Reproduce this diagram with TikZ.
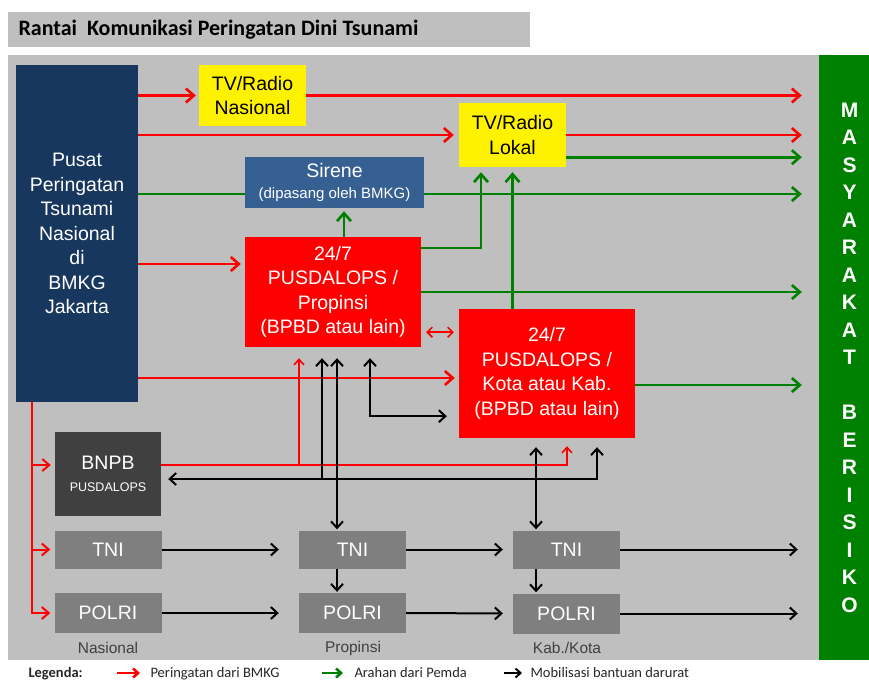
\documentclass[tikz,border=0pt]{standalone}
\usepackage{fontspec}
\setmainfont{Liberation Sans}
\newfontfamily\calibri{Carlito}
\usetikzlibrary{arrows.meta}
\definecolor{panelgray}{HTML}{BFBFBF}
\definecolor{navy}{HTML}{17375E}
\definecolor{sireneblue}{HTML}{376092}
\definecolor{darkgreen}{HTML}{008000}
\definecolor{boxgray}{HTML}{7F7F7F}
\definecolor{bnpbgray}{HTML}{404040}

\begin{document}
\begin{tikzpicture}[x=1pt,y=-1pt,
  box/.style={rectangle, inner sep=0pt, align=center, text=white,
    font=\fontsize{19.5}{24.5}\selectfont},
  greybox/.style={box, fill=boxgray, minimum width=107pt, minimum height=38pt},
  rline/.style={draw=red, line width=2.6pt, -{Straight Barb[length=8pt,width=14pt]}, shorten >=3pt},
  rthin/.style={draw=red, line width=1.6pt, -{Straight Barb[length=5.5pt,width=10pt]}},
  rmid/.style={draw=red, line width=2pt, -{Straight Barb[length=7pt,width=12pt]}, shorten >=4pt},
  gline/.style={draw=darkgreen, line width=2.6pt, -{Straight Barb[length=8pt,width=14pt]}, shorten >=3pt},
  bline/.style={draw=black, line width=2pt, -{Straight Barb[length=6.5pt,width=12pt]}},
  bboth/.style={bline, {Straight Barb[length=6.5pt,width=12pt]}-{Straight Barb[length=6.5pt,width=12pt]}},
  tomasy/.style={shorten >=17pt},
  level/.style={text=black!75, font=\fontsize{15.5}{18}\selectfont},
  legend/.style={anchor=base west, text=black!85, font=\calibri\fontsize{14.5}{17}\selectfont},
  lgarrow/.style={line width=2.6pt, -{Straight Barb[length=5pt,width=9pt]}}]
\useasboundingbox (0,0) rectangle (869,681);

% background
\fill[panelgray] (8,12) rectangle (530,47);
\node[anchor=west, font=\calibri\bfseries\fontsize{22}{25}\selectfont] (title) at (15,30)
  {Rantai\ \ Komunikasi Peringatan Dini Tsunami};
\fill[panelgray] (8,55) rectangle (819,660);

% boxes
\node[box, fill=navy, minimum width=122pt, minimum height=337pt] (pusat) at (77,233.5)
  {Pusat\\Peringatan\\Tsunami\\Nasional\\di\\BMKG\\Jakarta};
\node[box, fill=yellow, text=black, minimum width=107pt, minimum height=61pt] (tvnas) at (252.5,95.5)
  {TV/Radio\\Nasional};
\node[box, fill=yellow, text=black, minimum width=107pt, minimum height=64pt] (tvlok) at (512.5,135)
  {TV/Radio\\Lokal};
\node[box, fill=sireneblue, minimum width=179pt, minimum height=51pt, font=\fontsize{19.5}{21}\selectfont] (sirene) at (334.5,182.5)
  {Sirene\\{\fontsize{15}{16}\selectfont(dipasang oleh BMKG)}};
\node[box, fill=red, minimum width=176pt, minimum height=110pt] (prop) at (333,292)
  {24/7\\PUSDALOPS /\\Propinsi\\(BPBD atau lain)};
\node[box, fill=red, minimum width=176pt, minimum height=129pt] (kota) at (547,373.5)
  {24/7\\PUSDALOPS /\\Kota atau Kab.\\(BPBD atau lain)};
\node[box, fill=bnpbgray, minimum width=106pt, minimum height=84pt] (bnpb) at (108,474)
  {BNPB\\[-3pt]{\fontsize{12.5}{14}\selectfont PUSDALOPS}};
\node[greybox] (tnin) at (108,549.5) {TNI};
\node[greybox, minimum height=40pt] (polrin) at (108,613) {POLRI};
\node[greybox] (tnip) at (352.5,549.5) {TNI};
\node[greybox, minimum height=40pt] (polrip) at (352.5,613) {POLRI};
\node[greybox] (tnik) at (566.5,549.5) {TNI};
\node[greybox, minimum height=40pt] (polrik) at (566.5,613.5) {POLRI};
\node[box, fill=darkgreen, minimum width=61pt, minimum height=605pt,
  font=\bfseries\fontsize{21}{27.5}\selectfont] (masy) at (849.5,357.5)
  {M\\A\\S\\Y\\A\\R\\A\\K\\A\\T\\[27.5pt]B\\E\\R\\I\\S\\I\\K\\O};

\node[level] (lnas) at (108,648) {Nasional};
\node[level] (lprop) at (353,648) {Propinsi};
\node[level] (lkab) at (567,648) {Kab./Kota};

% helper points
\coordinate (tl1) at ([yshift=10pt]tvlok.south east);
\coordinate (s1) at ([yshift=-11.5pt]sirene.east);
\coordinate (p1) at ([yshift=-11pt]prop.north east);
\coordinate (p2) at ([yshift=28pt]prop.west);
\coordinate (p3) at ([yshift=15pt]prop.south east);
\coordinate (k1) at ([yshift=-11.5pt]kota.east);
\coordinate (k2) at ([yshift=-4.5pt]kota.west);
\coordinate (k3) at ([yshift=22pt]kota.south west);
\coordinate (b1) at ([yshift=9pt]bnpb.east);
\coordinate (b2) at ([yshift=-5pt]bnpb.east);
\coordinate (v1) at ([xshift=4pt]prop.south);
\coordinate (v2) at ([xshift=-11pt]kota.south);
\coordinate (v3) at ([xshift=37pt]prop.south);
\coordinate (v4) at ([xshift=-11pt]prop.south);
\coordinate (v5) at ([xshift=-34pt]prop.south);
\coordinate (v6) at ([xshift=20pt]kota.south);
\coordinate (v7) at ([xshift=50pt]kota.south);
\coordinate (g1) at ([xshift=11pt]prop.north);
\coordinate (g2) at ([xshift=-31.5pt]tvlok.south);
\coordinate (r0) at ([xshift=-45pt]pusat.south);

% peringatan (red)
\draw[rline] (pusat.east |- tvnas) -- (tvnas.west);
\draw[rline, tomasy] (tvnas.east) -- (tvnas.east -| masy.west);
\draw[rline, shorten >=5pt] (pusat.east |- tvlok) -- (tvlok.west);
\draw[rline, tomasy] (tvlok.east) -- (tvlok.east -| masy.west);
\draw[rline, shorten >=4pt] (pusat.east |- p2) -- (p2);
\draw[rline, shorten >=4pt] (pusat.east |- k2) -- (k2);
\draw[rthin, {Straight Barb[length=5pt,width=10pt]}-{Straight Barb[length=5pt,width=10pt]},
  shorten <=5pt, shorten >=5pt] (p3) -- (p3 -| kota.west);
\draw[rthin, shorten >=8pt] (b1) -| (v6 |- kota.south);
\draw[rthin, shorten >=11pt] (v5 |- b1) -- (v5);
\draw[rmid] (r0) |- (polrin.west);
\draw[rmid] (r0 |- b1) -- (b1 -| bnpb.west);
\draw[rmid] (r0 |- tnin) -- (tnin.west);

% arahan (green)
\draw[darkgreen, line width=2.6pt] (pusat.east |- s1) -- (s1 -| sirene.west);
\draw[gline, tomasy] (s1) -- (s1 -| masy.west);
\draw[gline] (g1) -- (g1 |- sirene.south);
\draw[gline, shorten >=5pt] (p1) -| (g2);
\draw[gline, tomasy] (prop.east) -- (prop.east -| masy.west);
\draw[gline, shorten >=5pt] (kota.north -| tvlok.south) -- (tvlok.south);
\draw[gline, tomasy] (tl1) -- (tl1 -| masy.west);
\draw[gline, tomasy] (k1) -- (k1 -| masy.west);

% mobilisasi (black)
\draw[bboth, shorten <=7pt, shorten >=9pt] (b2) -| (v7 |- kota.south);
\draw[bline, shorten >=11pt] (v4 |- b2) -- (v4);
\draw[bboth, shorten <=11pt, shorten >=12pt] (v3) |- (k3);
\draw[bboth, shorten <=11pt, shorten >=1pt] (v1) -- (v1 |- tnip.north);
\draw[bboth, shorten <=9pt, shorten >=1pt] (v2) -- (v2 |- tnik.north);
\draw[bline, shorten >=1pt] (v1 |- tnip.south) -- (v1 |- polrip.north);
\draw[bline, shorten >=1pt] (v2 |- tnik.south) -- (v2 |- polrik.north);
\draw[bline, shorten >=20pt] (tnin.east) -- (tnip.west);
\draw[bline, shorten >=20pt] (polrin.east) -- (polrip.west);
\draw[bline, shorten >=10pt] (tnip.east) -- (tnik.west);
\draw[bline, shorten >=10pt] (polrip.east) -- (polrik.west);
\draw[bline, shorten >=21pt] (tnik.east) -- (tnik.east -| masy.west);
\draw[bline, shorten >=21pt] (polrik.east) -- (polrik.east -| masy.west);

% legenda
\node[legend, font=\calibri\bfseries\fontsize{14.5}{17}\selectfont] (lgd) at (25,677) {Legenda:};
\node[legend] (lg1) at (147,677) {Peringatan dari BMKG};
\node[legend] (lg2) at (351,677) {Arahan dari Pemda};
\node[legend] (lg3) at (527,677) {Mobilisasi bantuan darurat};
\draw[lgarrow, red] ([xshift=-30pt,yshift=4pt]lg1.base west) -- ([xshift=-7pt,yshift=4pt]lg1.base west);
\draw[lgarrow, darkgreen] ([xshift=-29pt,yshift=4pt]lg2.base west) -- ([xshift=-8pt,yshift=4pt]lg2.base west);
\draw[lgarrow, line width=2pt] ([xshift=-23pt,yshift=4pt]lg3.base west) -- ([xshift=-5pt,yshift=4pt]lg3.base west);
\end{tikzpicture}
\end{document}
